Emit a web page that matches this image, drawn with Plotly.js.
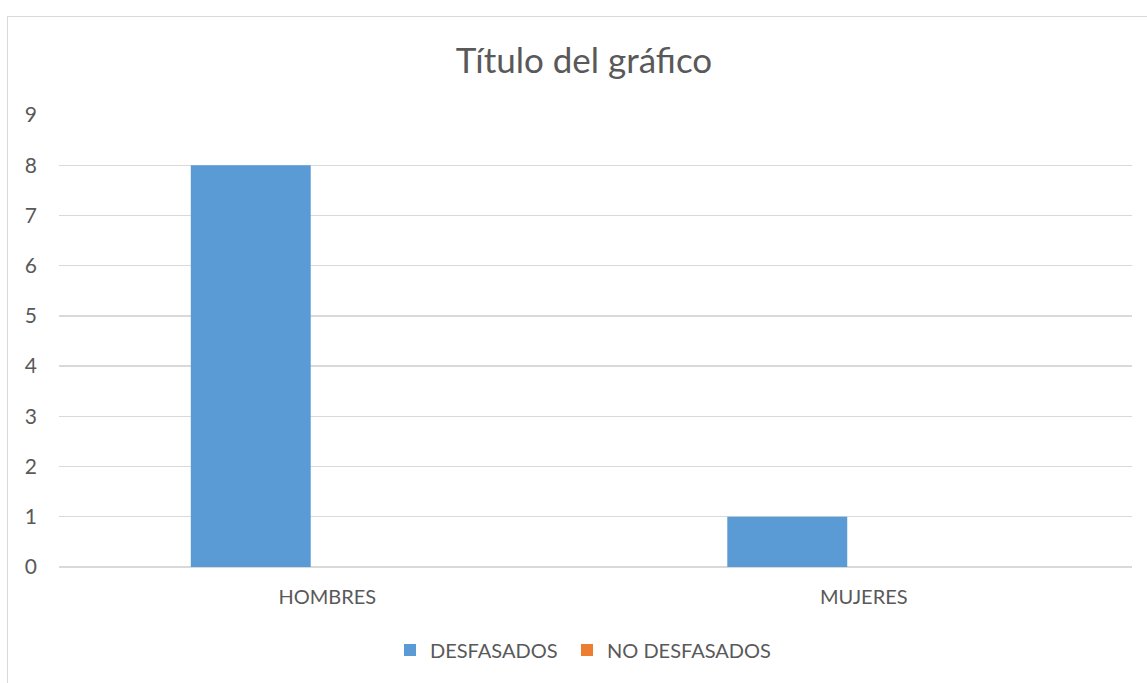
<!DOCTYPE html>
<html>
<head>
<meta charset="utf-8">
<script src="https://cdn.plot.ly/plotly-3.0.1.min.js"></script>
<style>
html,body{margin:0;padding:0;background:#fff;}
#wrap{position:relative;width:1147px;height:683px;overflow:hidden;}
#frame{position:absolute;left:7px;top:16px;width:1160px;height:700px;border:1px solid #d9d9d9;box-sizing:border-box;pointer-events:none;}
#chart{position:absolute;left:0;top:0;width:1147px;height:683px;}
</style>
</head>
<body>
<div id="wrap"><div id="chart"></div><div id="frame"></div></div>
<script>
const categories = ["HOMBRES", "MUJERES"];
const desfasados = [8, 1];
const noDesfasados = [0, 0];
const seriesNames = ["DESFASADOS", "NO DESFASADOS"];
const yTicks = [0,1,2,3,4,5,6,7,8,9];

const font = "Lato, sans-serif";
const traces = [
  {type:'bar', x:categories, y:desfasados, name:seriesNames[0], marker:{color:'#5B9BD5'}, legend:'legend'},
  {type:'bar', x:categories, y:noDesfasados, name:seriesNames[1], marker:{color:'#ED7D31'}, legend:'legend2'}
];
const legFont = {family:font, size:20, color:'#595959'};
const legY = -83/452;
const layout = {
  width:1147, height:683,
  margin:{l:59, r:15, t:115, b:116},
  paper_bgcolor:'rgba(0,0,0,0)', plot_bgcolor:'#fff',
  barmode:'group', bargap:0.4297, bargroupgap:0.216,
  title:{text:'Título del gráfico', x:(584)/1147, xanchor:'center', y:1-61/683, yanchor:'middle',
         font:{family:font, size:35, color:'#595959'}},
  xaxis:{type:'category', showgrid:false, zeroline:false, showline:false, ticks:'',
         tickfont:{family:font, size:20, color:'#595959'}, ticklabelstandoff:16, automargin:false},
  yaxis:{range:[0,9], tickvals:yTicks, ticktext:yTicks.map(String), showgrid:true, gridcolor:'#d9d9d9', gridwidth:1.3,
         zeroline:true, zerolinecolor:'#d9d9d9', zerolinewidth:1.3, showline:false, ticks:'',
         tickfont:{family:font, size:21, color:'#595959'}, ticklabelstandoff:21, automargin:false},
  showlegend:true,
  legend:{orientation:'h', x:(390-59)/1073, xanchor:'left', y:legY, yanchor:'middle', font:legFont, itemwidth:30},
  legend2:{orientation:'h', x:(567-59)/1073, xanchor:'left', y:legY, yanchor:'middle', font:legFont, itemwidth:30},
  font:{family:font}
};
Plotly.newPlot('chart', traces, layout, {displayModeBar:false, staticPlot:true});
</script>
</body>
</html>
